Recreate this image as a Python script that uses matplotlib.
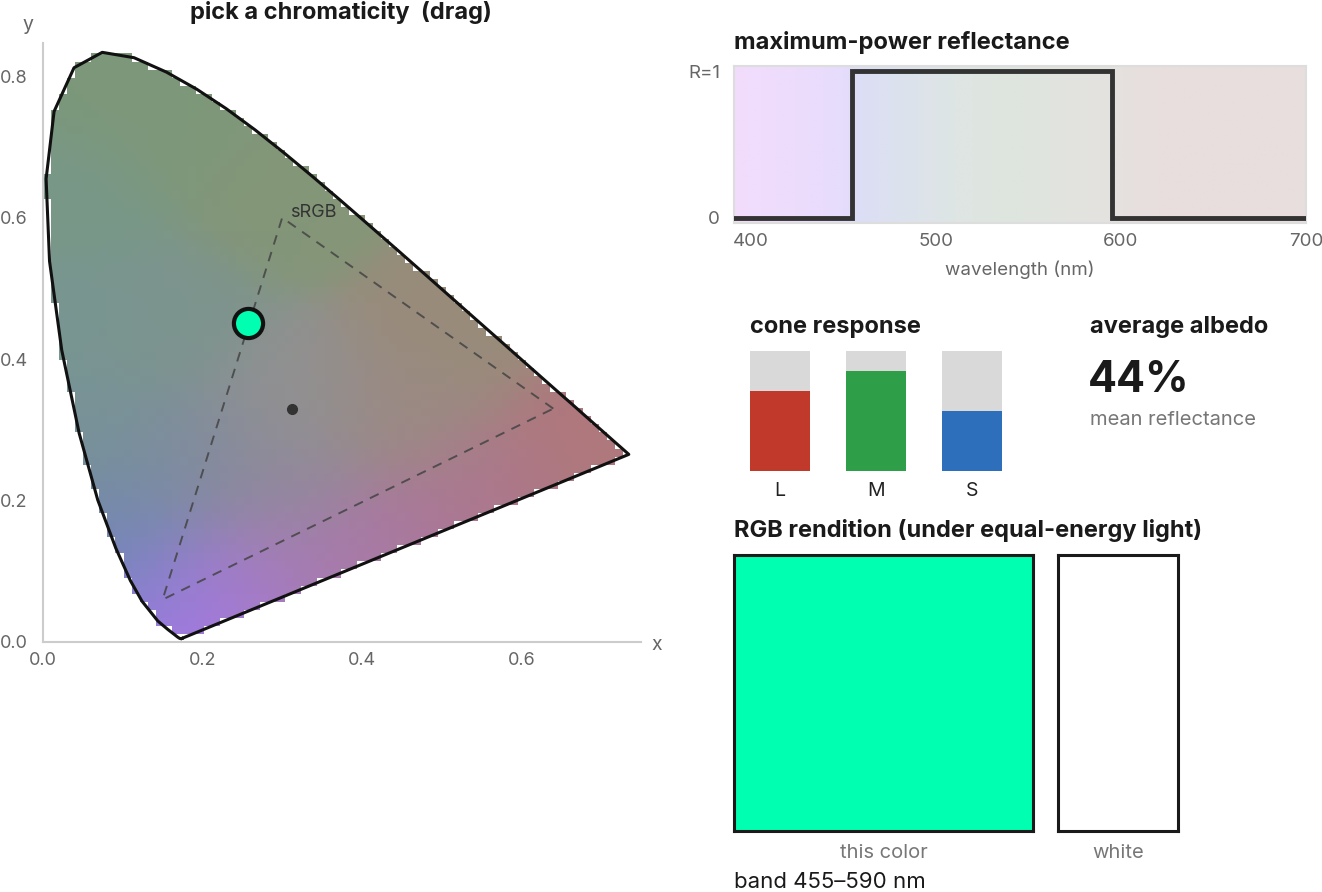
import numpy as np
import matplotlib
matplotlib.use("Agg")
import matplotlib.pyplot as plt
from matplotlib.path import Path

plt.rcParams['font.family'] = ['Inter', 'DejaVu Sans']

W, H = 1322, 892

# CIE 1931 spectral locus, 380-700 nm
locus_x = [0.1741, 0.1738, 0.1733, 0.1726, 0.1714, 0.1689, 0.1644, 0.1566, 0.1440,
           0.1241, 0.1096, 0.0913, 0.0687, 0.0454, 0.0235, 0.0082, 0.0039, 0.0139,
           0.0389, 0.0743, 0.1142, 0.1547, 0.1929, 0.2296, 0.2658, 0.3016, 0.3373,
           0.3731, 0.4087, 0.4441, 0.4788, 0.5125, 0.5448, 0.5752, 0.6029, 0.6270,
           0.6482, 0.6658, 0.6915, 0.7079, 0.7190, 0.7260, 0.7300, 0.7347]
locus_y = [0.0050, 0.0049, 0.0048, 0.0048, 0.0051, 0.0069, 0.0109, 0.0177, 0.0297,
           0.0578, 0.0868, 0.1327, 0.2007, 0.2950, 0.4127, 0.5384, 0.6548, 0.7502,
           0.8120, 0.8338, 0.8262, 0.8059, 0.7816, 0.7543, 0.7243, 0.6923, 0.6589,
           0.6245, 0.5896, 0.5547, 0.5202, 0.4866, 0.4544, 0.4242, 0.3965, 0.3725,
           0.3514, 0.3340, 0.3083, 0.2920, 0.2809, 0.2740, 0.2700, 0.2653]

srgb_x = [0.64, 0.30, 0.15]
srgb_y = [0.33, 0.60, 0.06]
white_x, white_y = 0.3127, 0.3290
picked_x, picked_y = 0.257, 0.451
picked_color = '#00ffb0'

# muted fill colours sampled from the diagram
anchor_xy = [(0.08, 0.80), (0.18, 0.74), (0.30, 0.64), (0.03, 0.62), (0.03, 0.45),
             (0.06, 0.30), (0.15, 0.45), (0.31, 0.33), (0.10, 0.16), (0.13, 0.07),
             (0.175, 0.015), (0.22, 0.04), (0.26, 0.08), (0.35, 0.09), (0.45, 0.14),
             (0.30, 0.20), (0.55, 0.20), (0.68, 0.28), (0.52, 0.44), (0.45, 0.32),
             (0.20, 0.25)]
anchor_rgb = [(124, 152, 122), (126, 152, 122), (132, 150, 120), (120, 152, 135),
              (120, 150, 146), (120, 146, 152), (125, 148, 142), (145, 145, 145),
              (116, 138, 172), (118, 132, 198), (176, 118, 245), (162, 122, 212),
              (166, 124, 192), (170, 122, 172), (170, 120, 160), (148, 135, 158),
              (172, 120, 140), (175, 120, 125), (152, 140, 122), (155, 138, 132),
              (128, 140, 158)]

refl_wl = [391, 455, 455, 595, 595, 700]
refl_R = [0, 0, 1, 1, 0, 0]
bg_wl = [391, 420, 450, 458, 480, 510, 540, 570, 595, 620, 700]
bg_rgb = [(242, 220, 252), (238, 220, 252), (230, 220, 252), (220, 222, 246),
          (220, 226, 238), (222, 229, 228), (222, 229, 222), (226, 228, 222),
          (228, 226, 222), (232, 222, 222), (232, 222, 222)]

cones = ['L', 'M', 'S']
cone_resp = [0.667, 0.833, 0.5]
cone_colors = ['#c0392b', '#2e9e48', '#2d6fbb']

albedo = 44
band_lo, band_hi = 455, 590

fig = plt.figure(figsize=(W / 100, H / 100), dpi=100)


def px_axes(x0, y0, x1, y1):
    return fig.add_axes([x0 / W, 1 - y1 / H, (x1 - x0) / W, (y1 - y0) / H])


def px_text(x, y, s, **kw):
    kw.setdefault('va', 'center')
    fig.text(x / W, 1 - y / H, s, **kw)


TITLE = dict(fontsize=17, weight='bold', color='#1a1a1a')

# ---- chromaticity diagram
ax = px_axes(43, 43, 641, 642)
dx, dy = 0.0101, 0.0114
xs = np.arange(dx / 2, 0.76, dx)
ys = np.arange(dy / 2, 0.86, dy)
gx, gy = np.meshgrid(xs, ys)
pts = np.column_stack([gx.ravel(), gy.ravel()])
inside = Path(np.column_stack([locus_x, locus_y])).contains_points(pts).reshape(gx.shape)
axy = np.array(anchor_xy)
argb = np.array(anchor_rgb) / 255
d2 = (gx[..., None] - axy[:, 0]) ** 2 + (gy[..., None] - axy[:, 1]) ** 2
w = np.exp(-d2 / (2 * 0.065 ** 2)) + 1e-12
rgb = (w[..., None] * argb).sum(axis=2) / w.sum(axis=2)[..., None]
img = np.dstack([np.clip(rgb, 0, 1), inside.astype(float)])
ax.imshow(img, extent=(0, len(xs) * dx, 0, len(ys) * dy), origin='lower',
          interpolation='nearest', aspect='auto', zorder=1)

ax.plot(locus_x + locus_x[:1], locus_y + locus_y[:1], color='#111', lw=2.2,
        solid_joinstyle='round', zorder=3)
ax.plot(srgb_x + srgb_x[:1], srgb_y + srgb_y[:1], color='#444', lw=1.4,
        dashes=(5, 4), alpha=0.85, zorder=3)
ax.text(srgb_x[1] + 0.01, srgb_y[1] + 0.008, 'sRGB', fontsize=13, color='#333',
        va='center', ha='left', zorder=4)
ax.plot([white_x], [white_y], 'o', ms=7, color='#333', zorder=4)
ax.plot([picked_x], [picked_y], 'o', ms=21, mfc=picked_color, mec='#111', mew=3,
        zorder=5)

ax.set_xlim(0, 0.75)
ax.set_ylim(0, 0.847)
ax.set_xticks([0, 0.2, 0.4, 0.6])
ax.set_xticklabels(['0.0', '0.2', '0.4', '0.6'])
ax.set_yticks([0, 0.2, 0.4, 0.6, 0.8])
ax.set_yticklabels(['0.0', '0.2', '0.4', '0.6', '0.8'])
ax.tick_params(length=0, colors='#666', labelsize=13)
ax.tick_params(axis='y', pad=11)
ax.tick_params(axis='x', pad=7)
for s in ['top', 'right']:
    ax.spines[s].set_visible(False)
for s in ['left', 'bottom']:
    ax.spines[s].set_color('#cccccc')
    ax.spines[s].set_linewidth(1.5)
ax.set_facecolor('none')
px_text(28, 25, 'y', fontsize=14, color='#666', ha='center')
px_text(657, 645, 'x', fontsize=14, color='#666', ha='center')
px_text(341, 12, 'pick a chromaticity  (drag)', ha='center', **TITLE)

# ---- reflectance
ar = px_axes(734, 66, 1306, 223)
wl = np.linspace(391, 700, 400)
bg = np.array(bg_rgb) / 255
strip = np.stack([np.interp(wl, bg_wl, bg[:, c]) for c in range(3)], axis=1)
ar.imshow(strip[None, :, :], extent=(391, 700, -0.035, 1.035), aspect='auto',
          interpolation='bilinear', zorder=0)
ar.plot(refl_wl, refl_R, color='#333', lw=3.5, solid_joinstyle='miter', zorder=3)
ar.set_xlim(391, 700)
ar.set_ylim(-0.035, 1.035)
ar.set_xticks([400, 500, 600, 700])
ar.set_yticks([0, 1])
ar.set_yticklabels(['0', 'R=1'])
ar.tick_params(length=0, colors='#666', labelsize=13.5)
ar.tick_params(axis='y', pad=10)
ar.tick_params(axis='x', pad=7)
for s in ar.spines.values():
    s.set_color('#dddddd')
    s.set_linewidth(1.5)
ar.set_xlabel('wavelength (nm)', fontsize=13.5, color='#666', labelpad=8)
px_text(734, 43, 'maximum-power reflectance', **TITLE)

# ---- cone response
ac = px_axes(750, 351, 1002, 471)
pos = np.arange(len(cones))
ac.bar(pos, [1] * len(cones), width=0.625, color='#d9d9d9')
ac.bar(pos, cone_resp, width=0.625, color=cone_colors)
ac.set_xlim(-0.3125, 2.3125)
ac.set_ylim(0, 1)
ac.set_xticks(pos)
ac.set_xticklabels(cones)
ac.set_yticks([])
ac.tick_params(length=0, colors='#222', labelsize=14, pad=8)
for s in ac.spines.values():
    s.set_visible(False)
px_text(750, 327, 'cone response', **TITLE)

# ---- albedo
px_text(1090, 327, 'average albedo', **TITLE)
px_text(1088, 380, f'{albedo}%', fontsize=31, weight='bold', color='#1a1a1a')
px_text(1090, 420, 'mean reflectance', fontsize=14.5, color='#777')

# ---- RGB swatches
px_text(734, 530, 'RGB rendition (under equal-energy light)', **TITLE)
for (x0, x1), fc, lab in [((734, 1033), picked_color, 'this color'),
                          ((1058, 1178), 'white', 'white')]:
    a = px_axes(x0, 555, x1, 831)
    a.set_facecolor(fc)
    a.set_xticks([])
    a.set_yticks([])
    for s in a.spines.values():
        s.set_color('#1a1a1a')
        s.set_linewidth(2.2)
    a.set_xlabel(lab, fontsize=14.5, color='#777', labelpad=9)
px_text(734, 882, f'band {band_lo}–{band_hi} nm', fontsize=16, color='#1a1a1a')

fig.savefig('out.png', dpi=100)
